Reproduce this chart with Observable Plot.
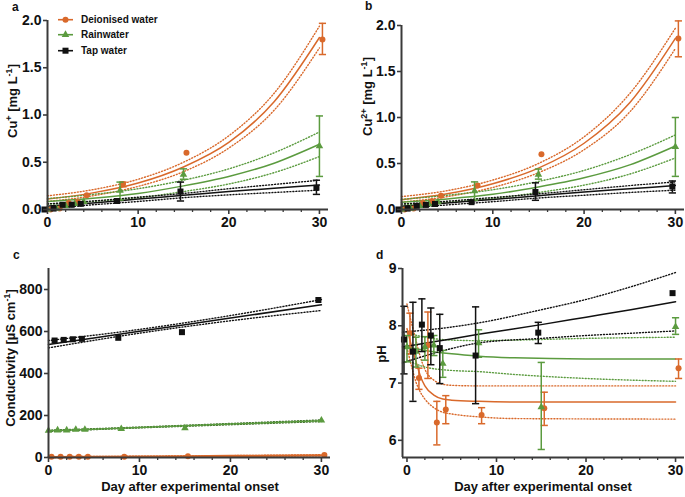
<!DOCTYPE html>
<html>
<head>
<meta charset="utf-8">
<script src="https://cdn.jsdelivr.net/npm/d3@7"></script>
<script src="https://cdn.jsdelivr.net/npm/@observablehq/plot@0.6"></script>
<style>
  body { margin: 0; background: #fff; }
  #fig { position: relative; width: 685px; height: 497px; background: #fff;
         font-family: "Liberation Sans", Arial, sans-serif; }
  .panel { position: absolute; }
  .panel svg { overflow: visible; }
</style>
</head>
<body>
<div id="fig"></div>
<script>
// ---------- shared ----------
const days = [0, 1, 2, 3, 4, 8, 15, 30];
const seriesNames = ["Deionised water", "Rainwater", "Tap water"];
const seriesColors = ["#d9692b", "#5b9b3f", "#111111"];
const seriesSymbols = ["circle", "triangle", "square"];
const seriesDodge = [3, 0, -3];           // horizontal dodge in px
const xMajorTicks = [0, 10, 20, 30];
const xMinorTicks = [2, 4, 6, 8, 12, 14, 16, 18, 22, 24, 26, 28];

// ---------- panel a : Cu+ ----------
const aDeion   = [0.00, 0.01, 0.07, 0.08, 0.15, 0.27, 0.60, 1.80];
const aDeionLo = [null, null, null, null, null, 0.24, null, 1.64];
const aDeionHi = [null, null, null, null, null, 0.29, null, 1.97];
const aRain    = [0.00, 0.01, 0.04, 0.06, 0.08, 0.20, 0.37, 0.67];
const aRainLo  = [null, null, null, null, null, 0.10, 0.32, 0.35];
const aRainHi  = [null, null, null, null, null, 0.29, 0.43, 0.99];
const aTap     = [0.00, 0.01, 0.05, 0.05, 0.06, 0.09, 0.19, 0.23];
const aTapLo   = [null, null, null, null, null, null, 0.09, 0.16];
const aTapHi   = [null, null, null, null, null, null, 0.29, 0.31];
const aFitDays = [0, 5, 10, 15, 20, 25, 30];
const aFitDeion   = [0.110, 0.176, 0.280, 0.450, 0.710, 1.140, 1.820];
const aFitDeionHi = [0.145, 0.210, 0.320, 0.500, 0.780, 1.230, 1.940];
const aFitDeionLo = [0.085, 0.145, 0.245, 0.400, 0.650, 1.050, 1.710];
const aFitRain    = [0.085, 0.120, 0.170, 0.250, 0.350, 0.490, 0.690];
const aFitRainHi  = [0.115, 0.160, 0.220, 0.310, 0.430, 0.600, 0.820];
const aFitRainLo  = [0.055, 0.085, 0.125, 0.190, 0.270, 0.390, 0.560];
const aFitTap     = [0.035, 0.070, 0.110, 0.150, 0.190, 0.225, 0.260];
const aFitTapHi   = [0.060, 0.090, 0.130, 0.170, 0.220, 0.265, 0.310];
const aFitTapLo   = [0.010, 0.050, 0.085, 0.125, 0.155, 0.180, 0.205];

// ---------- panel b : Cu2+ ----------
const bDeion   = [0.00, 0.01, 0.07, 0.09, 0.15, 0.26, 0.60, 1.86];
const bDeionLo = [null, null, null, null, null, null, null, 1.66];
const bDeionHi = [null, null, null, null, null, null, null, 2.05];
const bRain    = [0.00, 0.01, 0.04, 0.06, 0.08, 0.20, 0.38, 0.68];
const bRainLo  = [null, null, null, null, null, 0.10, 0.33, 0.36];
const bRainHi  = [null, null, null, null, null, 0.30, 0.44, 1.00];
const bTap     = [0.00, 0.01, 0.04, 0.05, 0.06, 0.08, 0.19, 0.25];
const bTapLo   = [null, null, null, null, null, null, 0.10, 0.18];
const bTapHi   = [null, null, null, null, null, null, 0.29, 0.31];
const bFitDays = [0, 5, 10, 15, 20, 25, 30];
const bFitDeion   = [0.105, 0.170, 0.280, 0.450, 0.720, 1.160, 1.860];
const bFitDeionHi = [0.140, 0.205, 0.320, 0.500, 0.790, 1.260, 1.970];
const bFitDeionLo = [0.080, 0.140, 0.240, 0.400, 0.650, 1.060, 1.750];
const bFitRain    = [0.080, 0.115, 0.165, 0.245, 0.345, 0.485, 0.690];
const bFitRainHi  = [0.110, 0.155, 0.215, 0.305, 0.425, 0.595, 0.810];
const bFitRainLo  = [0.050, 0.080, 0.120, 0.185, 0.265, 0.385, 0.560];
const bFitTap     = [0.035, 0.070, 0.110, 0.150, 0.190, 0.225, 0.260];
const bFitTapHi   = [0.060, 0.090, 0.130, 0.170, 0.215, 0.260, 0.300];
const bFitTapLo   = [0.010, 0.050, 0.085, 0.125, 0.155, 0.185, 0.210];

// ---------- panel c : conductivity ----------
const cDeion = [3, 3, 3, 3, 3, 4, 6, 12];
const cRain  = [128, 130, 130, 133, 133, 137, 140, 177];
const cTap   = [null, 557, 560, 563, 565, 570, 597, 750];
const cFitDays = [0, 10, 20, 30];
const cFitDeion   = [2, 4.7, 7.3, 10];
const cFitDeionHi = [4, 6, 9, 13];
const cFitDeionLo = [0, 3, 6, 8];
const cFitRain    = [127, 143, 159, 175];
const cFitRainHi  = [130, 145, 162, 179];
const cFitRainLo  = [124, 141, 156, 171];
const cFitTap     = [538, 601, 664, 727];
const cFitTapHi   = [557, 610, 676, 752];
const cFitTapLo   = [522, 592, 651, 700];

// ---------- panel d : pH ----------
const dDeion   = [7.87, 7.09, 7.66, 6.31, 6.54, 6.44, 6.56, 7.26];
const dDeionLo = [7.51, 6.89, 7.08, 5.92, 6.29, 6.29, 6.26, 7.08];
const dDeionHi = [8.22, 7.26, 8.24, 6.68, 6.78, 6.57, 6.84, 7.42];
const dRain    = [7.63, 7.55, 7.63, 7.66, 7.34, 7.70, 6.58, 7.98];
const dRainLo  = [7.37, 7.28, 7.40, 7.48, 7.10, 7.45, 5.84, 7.85];
const dRainHi  = [7.83, 7.80, 7.81, 7.83, 7.57, 7.93, 7.36, 8.14];
const dTap     = [7.76, 7.55, 8.02, 7.83, 7.61, 7.48, 7.88, 8.57];
const dTapLo   = [7.16, 6.68, 7.55, 7.32, 6.99, 6.64, 7.69, null];
const dTapHi   = [8.34, 8.41, 8.47, 8.31, 8.20, 8.33, 8.06, null];
const dFitDeionDays = [0, 0.5, 1, 1.5, 2, 3, 4, 5, 8, 12, 30];
const dFitDeion     = [7.95, 7.65, 7.38, 7.12, 6.95, 6.79, 6.72, 6.70, 6.68, 6.67, 6.67];
const dFitDeionHi   = [8.38, 8.05, 7.75, 7.45, 7.24, 7.05, 6.98, 6.96, 6.95, 6.95, 6.95];
const dFitDeionLo   = [7.62, 7.30, 7.02, 6.84, 6.72, 6.57, 6.49, 6.46, 6.41, 6.38, 6.37];
const dFitRainDays  = [0, 2, 5, 8, 12, 20, 30];
const dFitRain      = [7.63, 7.57, 7.51, 7.47, 7.44, 7.42, 7.42];
const dFitRainHi    = [7.88, 7.80, 7.75, 7.74, 7.75, 7.78, 7.80];
const dFitRainLo    = [7.40, 7.28, 7.22, 7.20, 7.15, 7.08, 7.03];
const dFitTapDays   = [-0.5, 3, 8, 15, 20, 25, 30];
const dFitTap       = [7.63, 7.72, 7.85, 8.02, 8.15, 8.28, 8.42];
const dFitTapHi     = [7.89, 7.94, 8.05, 8.28, 8.46, 8.68, 8.93];
const dFitTapLo     = [7.35, 7.52, 7.70, 7.78, 7.83, 7.87, 7.91];

// ---------- helpers ----------
const capSymbol = {
  draw(context, size) {
    const w = Math.sqrt(size / Math.PI);
    context.moveTo(-w, 0);
    context.lineTo(w, 0);
  }
};
const markerR = [3.0, 2.8, 3.4];
const dotted = "1 2";

function pointRows(values, lo, hi) {
  const rows = [];
  days.forEach((day, j) => {
    if (values[j] == null) return;
    rows.push({ day, v: values[j], lo: lo ? lo[j] : null, hi: hi ? hi[j] : null });
  });
  return rows;
}
function fitRows(fdays, vals) {
  return fdays.map((day, j) => ({ day, v: vals[j] }));
}

function buildPanel(cfg) {
  const marks = [];
  // fits (drawn first)
  cfg.series.forEach((s, i) => {
    const color = seriesColors[i];
    if (!s.fit) return;
    const lw = s.fitWidth || 1.5;
    const bc = s.bandColor || color;
    marks.push(Plot.line(fitRows(s.fitDays, s.fitHi), { x: "day", y: "v", stroke: bc, strokeWidth: 1.4, strokeDasharray: dotted, curve: "monotone-x" }));
    marks.push(Plot.line(fitRows(s.fitDays, s.fitLo), { x: "day", y: "v", stroke: bc, strokeWidth: 1.4, strokeDasharray: dotted, curve: "monotone-x" }));
    marks.push(Plot.line(fitRows(s.fitDays, s.fit), { x: "day", y: "v", stroke: color, strokeWidth: lw, curve: "monotone-x" }));
  });
  // points and error bars
  cfg.series.forEach((s, i) => {
    const color = seriesColors[i];
    const dx = seriesDodge[i];
    const rows = pointRows(s.v, s.lo, s.hi);
    const err = rows.filter(d => d.lo != null && d.hi != null);
    marks.push(Plot.ruleX(err, { x: "day", y1: "lo", y2: "hi", stroke: color, strokeWidth: 1.5, dx }));
    marks.push(Plot.dot(err, { x: "day", y: "lo", symbol: capSymbol, r: 3.6, stroke: color, strokeWidth: 1.5, fill: "none", dx }));
    marks.push(Plot.dot(err, { x: "day", y: "hi", symbol: capSymbol, r: 3.6, stroke: color, strokeWidth: 1.5, fill: "none", dx }));
    marks.push(Plot.dot(rows, { x: "day", y: "v", symbol: seriesSymbols[i], r: markerR[i], fill: color, stroke: "none", dx }));
  });
  // axes
  marks.push(Plot.ruleY([cfg.yDomain[0]], { x1: cfg.xDomain[0], x2: cfg.xDomain[1], stroke: "#3a3a3a", strokeWidth: 2 }));
  marks.push(Plot.ruleX([cfg.xDomain[0]], { y1: cfg.yDomain[0], y2: cfg.yDomain[1], stroke: "#3a3a3a", strokeWidth: 2 }));
  marks.push(Plot.axisX({ ticks: xMajorTicks, tickSize: 5, tickPadding: 3, stroke: "#3a3a3a", strokeWidth: 1.6, fill: "#111", fontWeight: "bold", fontSize: 14 }));
  marks.push(Plot.axisX({ ticks: xMinorTicks, tickSize: 3, stroke: "#3a3a3a", strokeWidth: 1.3, fill: "none" }));
  marks.push(Plot.axisY({ ticks: cfg.yTicks, tickFormat: cfg.yFormat, tickSize: 4, tickPadding: 2, stroke: "#3a3a3a", strokeWidth: 1.6, fill: "#111", fontWeight: "bold", fontSize: 14 }));

  const svg = Plot.plot({
    width: cfg.width, height: cfg.height,
    marginLeft: cfg.margin[3], marginRight: cfg.margin[1], marginTop: cfg.margin[0], marginBottom: cfg.margin[2],
    x: { domain: cfg.xDomain, label: null },
    y: { domain: cfg.yDomain, label: null },
    style: { fontFamily: '"Liberation Sans", Arial, sans-serif', fontSize: "13px", fontWeight: "bold", color: "#111", background: "transparent", overflow: "visible" },
    marks
  });

  const sel = d3.select(svg);
  // panel letter
  sel.append("text").attr("x", cfg.letterPos[0]).attr("y", cfg.letterPos[1]).attr("text-anchor", "start")
    .attr("font-size", 12).attr("font-weight", "bold").attr("fill", "#111").text(cfg.letter);
  // y title (with superscripts)
  const yt = sel.append("text")
    .attr("transform", `translate(${cfg.yTitlePos[0]},${cfg.yTitlePos[1]}) rotate(-90)`)
    .attr("text-anchor", "middle").attr("font-size", 13).attr("font-weight", "bold").attr("fill", "#111");
  cfg.yTitle.forEach(part => {
    const t = yt.append("tspan").text(part.t);
    if (part.sup) t.attr("baseline-shift", "super").attr("font-size", 9);
  });
  // x title
  if (cfg.xTitle) {
    sel.append("text").attr("x", cfg.xTitlePos[0]).attr("y", cfg.xTitlePos[1])
      .attr("text-anchor", "middle").attr("font-size", 13).attr("font-weight", "bold").attr("fill", "#111")
      .text(cfg.xTitle);
  }
  // legend
  if (cfg.legend) {
    const rowsY = [19.7, 34.7, 50.7];
    seriesNames.forEach((name, i) => {
      const g = sel.append("g").attr("transform", `translate(0,${rowsY[i]})`);
      g.append("line").attr("x1", 58).attr("x2", 73).attr("y1", 0).attr("y2", 0)
        .attr("stroke", seriesColors[i]).attr("stroke-width", 1.6);
      const symType = [d3.symbolCircle, d3.symbolTriangle, d3.symbolSquare][i];
      const r = markerR[i];
      g.append("path").attr("transform", "translate(65.5,0)")
        .attr("d", d3.symbol(symType, Math.PI * r * r)()).attr("fill", seriesColors[i]);
      g.append("text").attr("x", 81).attr("y", 3.6).attr("text-anchor", "start")
        .attr("font-size", 10).attr("font-weight", "bold")
        .attr("fill", "#111").text(name);
    });
  }
  return svg;
}

const fmt1 = d3.format(".1f");
const panels = [
  {
    left: 0, top: 0, width: 340, height: 240, margin: [20, 12, 31, 47],
    xDomain: [0, 31], yDomain: [0, 2], yTicks: [0, 0.5, 1, 1.5, 2], yFormat: fmt1,
    letter: "a", letterPos: [12, 11], legend: true,
    yTitle: [{ t: "Cu" }, { t: "+", sup: true }, { t: " [mg L" }, { t: "-1", sup: true }, { t: "]" }], yTitlePos: [16.5, 101],
    series: [
      { v: aDeion, lo: aDeionLo, hi: aDeionHi, fitDays: aFitDays, fit: aFitDeion, fitHi: aFitDeionHi, fitLo: aFitDeionLo },
      { v: aRain, lo: aRainLo, hi: aRainHi, fitDays: aFitDays, fit: aFitRain, fitHi: aFitRainHi, fitLo: aFitRainLo },
      { v: aTap, lo: aTapLo, hi: aTapHi, fitDays: aFitDays, fit: aFitTap, fitHi: aFitTapHi, fitLo: aFitTapLo }
    ]
  },
  {
    left: 340, top: 0, width: 345, height: 240, margin: [25, 1, 31, 61],
    xDomain: [0, 31], yDomain: [0, 2], yTicks: [0, 0.5, 1, 1.5, 2], yFormat: fmt1,
    letter: "b", letterPos: [25, 10],
    yTitle: [{ t: "Cu" }, { t: "2+", sup: true }, { t: " [mg L" }, { t: "-1", sup: true }, { t: "]" }], yTitlePos: [32, 96.5],
    series: [
      { v: bDeion, lo: bDeionLo, hi: bDeionHi, fitDays: bFitDays, fit: bFitDeion, fitHi: bFitDeionHi, fitLo: bFitDeionLo },
      { v: bRain, lo: bRainLo, hi: bRainHi, fitDays: bFitDays, fit: bFitRain, fitHi: bFitRainHi, fitLo: bFitRainLo },
      { v: bTap, lo: bTapLo, hi: bTapHi, fitDays: bFitDays, fit: bFitTap, fitHi: bFitTapHi, fitLo: bFitTapLo }
    ]
  },
  {
    left: 0, top: 240, width: 340, height: 257, margin: [28, 10, 40, 48],
    xDomain: [0, 31], yDomain: [0, 900], yTicks: [0, 200, 400, 600, 800], yFormat: d3.format("d"),
    letter: "c", letterPos: [13, 19],
    yTitle: [{ t: "Conductivity [µS cm" }, { t: "-1", sup: true }, { t: "]" }], yTitlePos: [14.5, 118],
    xTitle: "Day after experimental onset", xTitlePos: [190, 251],
    series: [
      { v: cDeion, fitDays: cFitDays, fit: cFitDeion, fitHi: cFitDeionHi, fitLo: cFitDeionLo, fitWidth: 2.2 },
      { v: cRain, fitDays: cFitDays, fit: cFitRain, fitHi: cFitRainHi, fitLo: cFitRainLo, bandColor: "#3f6e2c" },
      { v: cTap, fitDays: cFitDays, fit: cFitTap, fitHi: cFitTapHi, fitLo: cFitTapLo }
    ]
  },
  {
    left: 340, top: 240, width: 345, height: 257, margin: [28, 1, 40, 62],
    xDomain: [-0.5, 31], yDomain: [5.7, 9], yTicks: [6, 7, 8, 9], yFormat: d3.format("d"),
    letter: "d", letterPos: [36, 19],
    yTitle: [{ t: "pH" }], yTitlePos: [46, 114],
    xTitle: "Day after experimental onset", xTitlePos: [203, 251],
    series: [
      { v: dDeion, lo: dDeionLo, hi: dDeionHi, fitDays: dFitDeionDays, fit: dFitDeion, fitHi: dFitDeionHi, fitLo: dFitDeionLo },
      { v: dRain, lo: dRainLo, hi: dRainHi, fitDays: dFitRainDays, fit: dFitRain, fitHi: dFitRainHi, fitLo: dFitRainLo },
      { v: dTap, lo: dTapLo, hi: dTapHi, fitDays: dFitTapDays, fit: dFitTap, fitHi: dFitTapHi, fitLo: dFitTapLo }
    ]
  }
];

const fig = document.getElementById("fig");
panels.forEach(cfg => {
  const div = document.createElement("div");
  div.className = "panel";
  div.style.left = cfg.left + "px";
  div.style.top = cfg.top + "px";
  div.appendChild(buildPanel(cfg));
  fig.appendChild(div);
});
</script>
</body>
</html>
